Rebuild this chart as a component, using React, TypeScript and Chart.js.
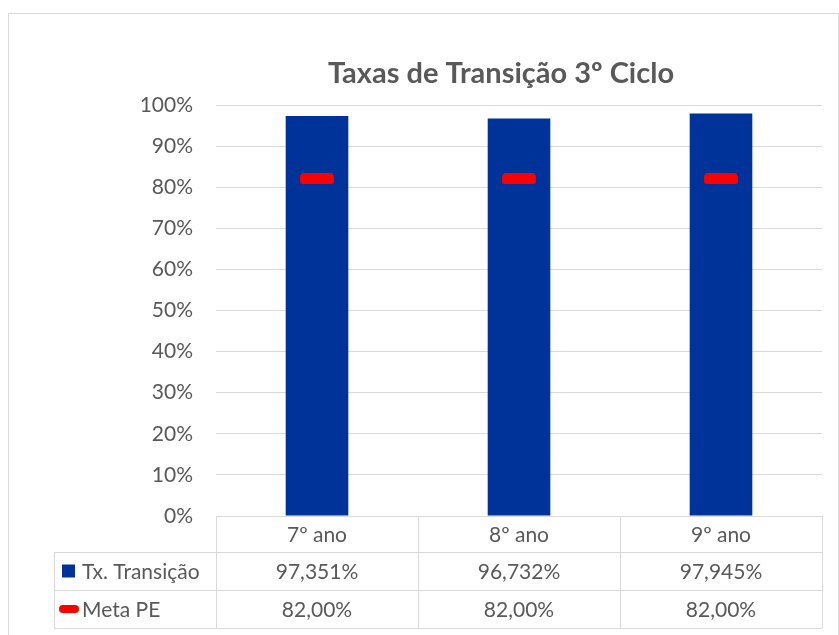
import React, { useEffect, useRef } from "react";
import { Chart, registerables } from "chart.js";

Chart.register(...registerables);

const categories = ["7º ano", "8º ano", "9º ano"];
const txTransicao = [97.351, 96.732, 97.945];
const metaPE = [82, 82, 82];
const seriesNames = ["Tx. Transição", "Meta PE"];
const yTicks = [0, 10, 20, 30, 40, 50, 60, 70, 80, 90, 100];
const titleText = "Taxas de Transição 3º Ciclo";

const BLUE = "#003399";
const RED = "#FF0000";
const TEXT = "#595959";
const GRID = "#D9D9D9";
const FONT = "Lato";

function makeDash(w: number, h: number, r: number) {
  const c = document.createElement("canvas");
  c.width = w;
  c.height = h;
  const x = c.getContext("2d")!;
  x.fillStyle = RED;
  x.beginPath();
  (x as any).roundRect(0, 0, w, h, r);
  x.fill();
  return c;
}

const fmt = (v: number, d: number) => v.toFixed(d).replace(".", ",") + "%";

const framePlugin = {
  id: "frame",
  beforeDraw(chart: any) {
    const ctx = chart.ctx;
    ctx.save();
    ctx.fillStyle = "#ffffff";
    ctx.fillRect(0, 0, chart.width, chart.height);
    ctx.strokeStyle = GRID;
    ctx.lineWidth = 1;
    ctx.strokeRect(8.5, 13.5, 830, 700);
    ctx.restore();
  },
};

const tablePlugin = {
  id: "dataTable",
  afterDraw(chart: any) {
    const { ctx, chartArea } = chart;
    const xs = chart.scales.x;
    const left = chartArea.left;
    const right = chartArea.right;
    const top = chartArea.bottom;
    const rows = [top, top + 36, top + 74, top + 112];
    const legLeft = left - 162;
    const n = categories.length;
    const cw = (right - left) / n;

    ctx.save();
    // title
    ctx.fillStyle = TEXT;
    ctx.font = `bold 29px ${FONT}`;
    ctx.textAlign = "center";
    ctx.textBaseline = "alphabetic";
    ctx.fillText(titleText, 501, 83);

    // grid lines
    ctx.strokeStyle = GRID;
    ctx.lineWidth = 1;
    const h = (x1: number, x2: number, y: number) => {
      ctx.beginPath();
      ctx.moveTo(x1, Math.round(y) + 0.5);
      ctx.lineTo(x2, Math.round(y) + 0.5);
      ctx.stroke();
    };
    const v = (x: number, y1: number, y2: number) => {
      ctx.beginPath();
      ctx.moveTo(Math.round(x) + 0.5, y1);
      ctx.lineTo(Math.round(x) + 0.5, y2);
      ctx.stroke();
    };
    h(left, right, rows[0]);
    for (let r = 1; r < rows.length; r++) h(legLeft, right, rows[r]);
    v(legLeft, rows[1], rows[3]);
    for (let i = 0; i <= n; i++) v(left + i * cw, rows[0], rows[3]);

    ctx.font = `21px ${FONT}`;
    ctx.fillStyle = TEXT;
    ctx.textBaseline = "middle";
    ctx.textAlign = "center";
    for (let i = 0; i < n; i++) {
      const cx = xs.getPixelForValue(i);
      ctx.fillText(categories[i], cx, (rows[0] + rows[1]) / 2 + 1);
      ctx.fillText(fmt(txTransicao[i], 3), cx, (rows[1] + rows[2]) / 2 + 1);
      ctx.fillText(fmt(metaPE[i], 2), cx, (rows[2] + rows[3]) / 2 + 1);
    }
    // legend keys
    ctx.textAlign = "left";
    const m1 = (rows[1] + rows[2]) / 2;
    const m2 = (rows[2] + rows[3]) / 2;
    ctx.fillStyle = BLUE;
    ctx.fillRect(legLeft + 8, m1 - 6.5, 13, 13);
    ctx.fillStyle = RED;
    ctx.beginPath();
    ctx.roundRect(legLeft + 5, m2 - 4, 20, 8, 4);
    ctx.fill();
    ctx.fillStyle = TEXT;
    ctx.fillText(seriesNames[0], legLeft + 28, m1 + 1);
    ctx.fillText(seriesNames[1], legLeft + 28, m2 + 1);
    ctx.restore();
  },
};

export default function App() {
  const ref = useRef<HTMLCanvasElement>(null);
  useEffect(() => {
    if (!ref.current) return;
    const dash = makeDash(34, 11, 4);
    const chart = new Chart(ref.current, {
      type: "bar",
      data: {
        labels: categories,
        datasets: [
          {
            type: "line",
            label: seriesNames[1],
            data: metaPE,
            showLine: false,
            pointStyle: dash as any,
            pointRadius: 10,
            pointHoverRadius: 10,
            borderColor: RED,
            backgroundColor: RED,
            order: 0,
          } as any,
          {
            type: "bar",
            label: seriesNames[0],
            data: txTransicao,
            backgroundColor: BLUE,
            borderWidth: 0,
            barPercentage: 0.31,
            categoryPercentage: 1,
            order: 1,
          },
        ],
      },
      options: {
        responsive: false,
        animation: false,
        layout: { padding: { left: 0, right: 17, top: 105, bottom: 119 } },
        plugins: {
          legend: { display: false },
          title: { display: false },
          tooltip: { enabled: false },
        },
        scales: {
          x: { display: false, offset: true },
          y: {
            min: 0,
            max: 100,
            afterFit: (s: any) => {
              s.width = 216;
            },
            afterBuildTicks: (s: any) => {
              s.ticks = yTicks.map((value) => ({ value }));
            },
            ticks: {
              padding: 23,
              color: TEXT,
              font: { family: FONT, size: 21 },
              callback: (val: any) => val + "%",
            },
            grid: { color: GRID, drawTicks: false, lineWidth: 1 },
            border: { display: false },
          },
        },
      },
      plugins: [framePlugin, tablePlugin],
    });
    return () => chart.destroy();
  }, []);
  return (
    <div style={{ position: "absolute", left: 0, top: 0, width: 839, height: 635 }}>
      <canvas ref={ref} width={839} height={635} style={{ display: "block" }} />
    </div>
  );
}
